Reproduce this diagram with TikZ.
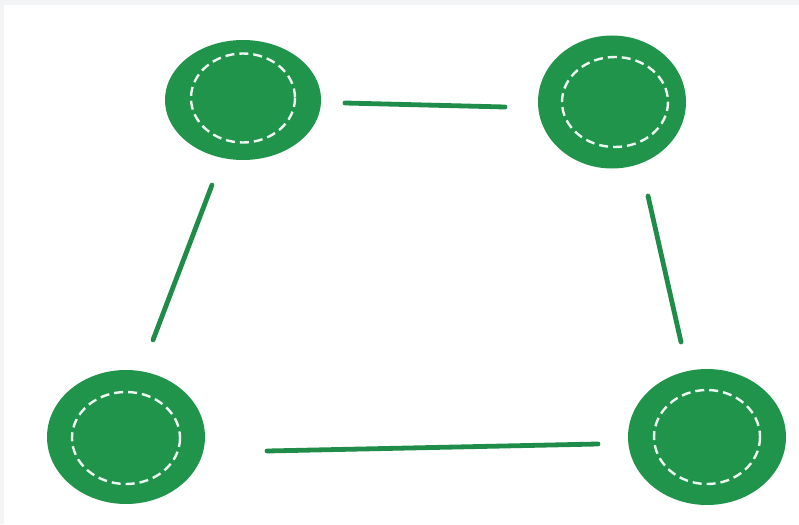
\documentclass[tikz,border=0pt]{standalone}
\usetikzlibrary{shapes.geometric}
\definecolor{disc}{RGB}{33,148,76}
\definecolor{link}{RGB}{32,140,74}
\definecolor{frame}{RGB}{243,244,246}
\tikzset{
  disc/.style={ellipse, fill=disc, draw=none, inner sep=0pt},
  seam/.style={draw=white!92!disc, line width=2.4pt, dash pattern=on 9pt off 5pt},
  link/.style={draw=link, line width=4.8pt, line cap=round}
}
\begin{document}
\begin{tikzpicture}[x=1pt,y=-1pt]
\useasboundingbox (0,0) rectangle (799,524);
\fill[frame] (0,0) rectangle (799,524);
\fill[white] (4,5) rectangle (799,524);
\node[disc, minimum width=156pt, minimum height=120pt] (tl) at (243,100) {};
\node[disc, minimum width=148pt, minimum height=133pt] (tr) at (612,102) {};
\node[disc, minimum width=158pt, minimum height=134pt] (bl) at (126,437) {};
\node[disc, minimum width=158pt, minimum height=136pt] (br) at (707,437) {};
\draw[seam] (tl.center) ++(0,-2) ellipse (52 and 44.5);
\draw[seam] (tr.center) ++(3,0) ellipse (53 and 45);
\draw[seam] (bl.center) ++(0,1) ellipse (54 and 46);
\draw[seam] (br.center) ++(0,0) ellipse (53 and 47);
\coordinate (t1) at (345,103);
\coordinate (t2) at (505,107);
\coordinate (l1) at (212,185);
\coordinate (l2) at (153,340);
\coordinate (r1) at (648,196);
\coordinate (r2) at (681,342);
\coordinate (b1) at (267,451);
\coordinate (b2) at (598,444);
\draw[link] (t1) -- (t2);
\draw[link] (l1) -- (l2);
\draw[link] (r1) -- (r2);
\draw[link] (b1) -- (b2);
\end{tikzpicture}
\end{document}
